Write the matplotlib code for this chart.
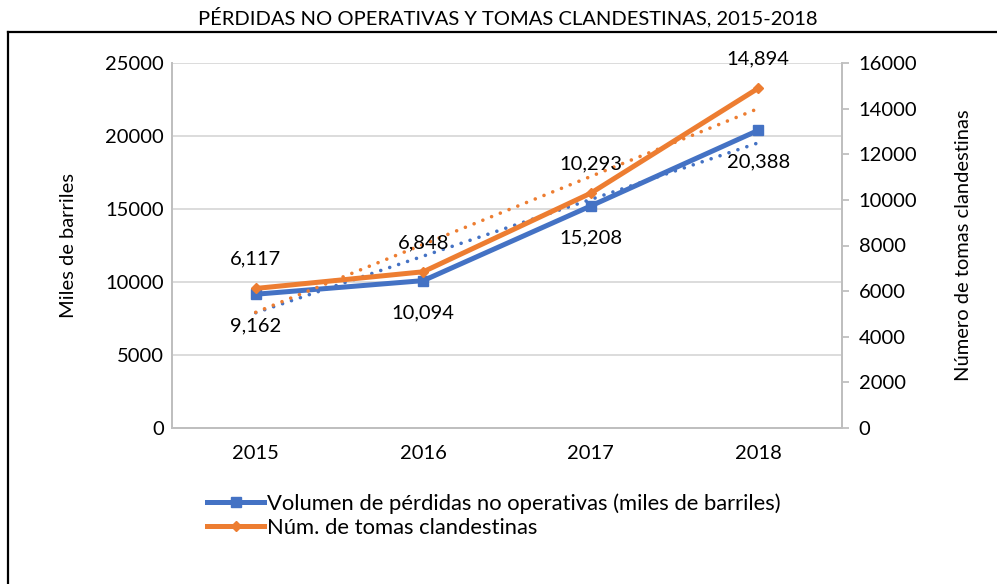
import matplotlib
matplotlib.use("Agg")
import matplotlib.pyplot as plt
from matplotlib.lines import Line2D
import numpy as np

plt.rcParams['font.family'] = ['Lato', 'DejaVu Sans']

years = ["2015", "2016", "2017", "2018"]
volumen = [9162, 10094, 15208, 20388]
tomas = [6117, 6848, 10293, 14894]
left_ticks = [0, 5000, 10000, 15000, 20000, 25000]
right_ticks = [0, 2000, 4000, 6000, 8000, 10000, 12000, 14000, 16000]

BLUE = "#4472C4"
ORANGE = "#ED7D31"
GRID = "#D9D9D9"
AX = "#BFBFBF"
FS = 14.5

W, H = 997, 584
fig = plt.figure(figsize=(W / 100, H / 100), dpi=100)
ax = fig.add_axes([172 / W, 1 - 428 / H, (842 - 172) / W, (428 - 63) / H])
ax2 = ax.twinx()

x = np.arange(len(years))
ax.set_xlim(-0.5, len(years) - 0.5)
ax.set_ylim(0, 25000)
ax2.set_ylim(0, 16000)

ax.set_yticks(left_ticks)
ax.set_yticklabels([str(t) for t in left_ticks])
ax2.set_yticks(right_ticks)
ax2.set_yticklabels([str(t) for t in right_ticks])
ax.set_xticks(x)
ax.set_xticklabels(years)

ax.grid(axis='y', color=GRID, linewidth=1.3)
ax.set_axisbelow(True)
for a in (ax, ax2):
    a.spines['top'].set_visible(False)
    for s in ('left', 'right', 'bottom'):
        a.spines[s].set_color(AX)
        a.spines[s].set_linewidth(1.3)
ax.tick_params(axis='y', length=0, labelsize=FS, pad=6)
ax.tick_params(axis='x', length=0, labelsize=FS, pad=12)
ax2.tick_params(axis='y', length=5, color=AX, width=1.3, labelsize=FS, pad=7)

ax.set_ylabel("Miles de barriles", fontsize=FS, labelpad=20)
ax2.set_ylabel("Número de tomas clandestinas", fontsize=FS, labelpad=27)

# trend lines
cb = np.polyfit(x, volumen, 1)
co = np.polyfit(x, tomas, 1)
dot = (0, (0.01, 2.6))
ax.plot(x, np.polyval(cb, x), color=BLUE, linestyle=dot, linewidth=2.6,
        dash_capstyle='round', zorder=3)
ax2.plot(x, np.polyval(co, x), color=ORANGE, linestyle=dot, linewidth=2.6,
         dash_capstyle='round', zorder=3)

l1, = ax.plot(x, volumen, color=BLUE, linewidth=3.6, marker='s', markersize=7,
              zorder=4)
l2, = ax2.plot(x, tomas, color=ORANGE, linewidth=3.6, marker='D', markersize=5,
               zorder=4)

for xi, v in zip(x, volumen):
    ax.annotate(f"{v:,}", (xi, v), xytext=(0, -23), textcoords='offset points',
                ha='center', va='center', fontsize=FS)
for xi, v in zip(x, tomas):
    ax2.annotate(f"{v:,}", (xi, v), xytext=(0, 21), textcoords='offset points',
                 ha='center', va='center', fontsize=FS)

fig.legend([l1, l2],
           ["Volumen de pérdidas no operativas (miles de barriles)",
            "Núm. de tomas clandestinas"],
           loc='upper left', bbox_to_anchor=(196 / W, 1 - 482 / H),
           frameon=False, fontsize=15.8, handlelength=2.6, handletextpad=0.12,
           labelspacing=0.2, borderpad=0)

fig.text(508 / W, 1 - 17 / H, "PÉRDIDAS NO OPERATIVAS Y TOMAS CLANDESTINAS, 2015-2018",
         ha='center', va='center', fontsize=14.5)

# outer box
fig.add_artist(Line2D([8 / W, 8 / W], [0, 1 - 32 / H], color='black', linewidth=1.6,
                      transform=fig.transFigure))
fig.add_artist(Line2D([8 / W, 1], [1 - 32 / H, 1 - 32 / H], color='black', linewidth=1.6,
                      transform=fig.transFigure))

fig.savefig("out.png", dpi=100)
